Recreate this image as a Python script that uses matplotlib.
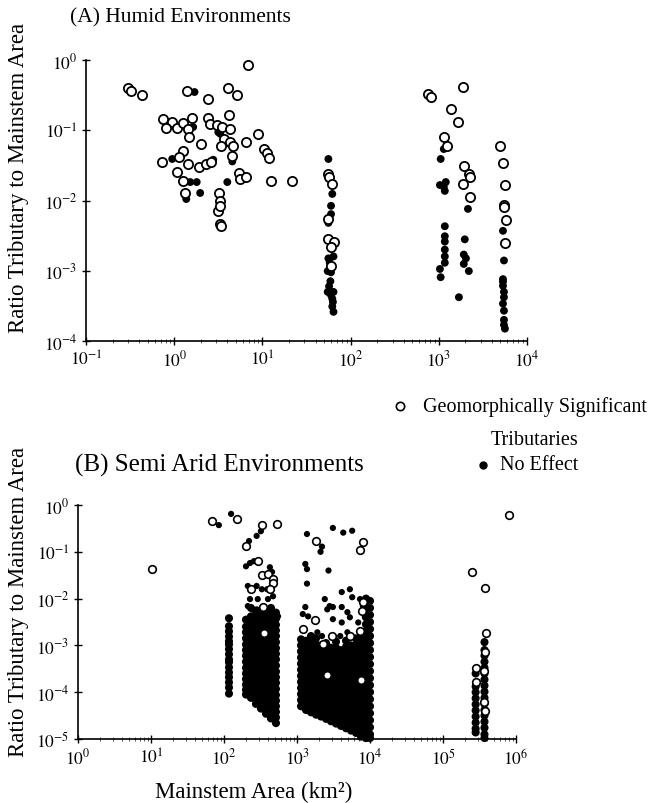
import numpy as np
import matplotlib
matplotlib.use('Agg')
import matplotlib.pyplot as plt
from matplotlib.lines import Line2D
from matplotlib.ticker import NullLocator, LogLocator

# ---- (A) humid: mainstem area (km2) vs tributary/mainstem area ratio
humid_sig_area = [0.30, 0.32, 0.43, 1.4, 2.4, 6.8, 4.1, 5.2, 4.2,
                  0.75, 0.95, 0.81, 1.08, 1.26, 1.6, 1.44, 1.48, 2.4, 2.56, 3.08, 3.5,
                  4.33, 3.7, 4.3, 4.7, 3.4, 6.6, 8.8, 2.03, 1.26, 1.14, 1.44, 0.73,
                  1.08, 1.26, 1.92, 2.31, 2.63, 4.56, 5.5, 5.6, 6.6, 10.3, 11.4, 12.0, 12.6, 21.4,
                  1.33, 3.24, 3.33, 3.16, 3.33, 3.33, 3.4,
                  55, 57, 62, 56, 55, 64, 60, 60,
                  750, 810, 1370, 1640, 1870, 1140, 1230, 1920, 2190, 2250, 1870, 2250,
                  4930, 5340, 5620, 5480, 5480, 5770, 5620]
humid_sig_ratio = [0.40, 0.36, 0.32, 0.36, 0.28, 0.85, 0.40, 0.32, 0.165,
                   0.145, 0.131, 0.108, 0.108, 0.127, 0.149, 0.104, 0.080, 0.149, 0.123, 0.119, 0.111,
                   0.104, 0.075, 0.068, 0.060, 0.060, 0.068, 0.089, 0.064, 0.051, 0.042, 0.033, 0.035,
                   0.0255, 0.019, 0.030, 0.033, 0.035, 0.043, 0.0246, 0.0202, 0.0216, 0.054, 0.047, 0.040, 0.019, 0.019,
                   0.0128, 0.0128, 0.0098, 0.0071, 0.0084, 0.0046, 0.0043,
                   0.0238, 0.0216, 0.0172, 0.0055, 0.0028, 0.0026, 0.0022, 0.00117,
                   0.33, 0.30, 0.20, 0.131, 0.41, 0.080, 0.060, 0.031, 0.0238, 0.0216, 0.0172, 0.0112,
                   0.060, 0.034, 0.0166, 0.0086, 0.0081, 0.0053, 0.0025]

humid_none_area = [1.7, 1.64, 3.16, 3.33, 0.95, 2.77, 4.56, 4.0, 1.52, 1.8, 1.37, 1.97,
                   56, 62, 60, 60, 56, 64, 56, 55, 59, 55, 64, 62, 62, 64, 58, 60, 57, 63, 60,
                   1140, 1050, 1200, 1030, 1140, 1170, 1170, 1170, 1170, 1170, 1170, 1170, 1030, 1050,
                   2140, 1970, 1920, 2030, 1920, 2190, 1690,
                   5340, 5480, 5340, 5340, 5480, 5340, 5480, 5480, 5620, 5340, 5480, 5480]
humid_none_ratio = [0.35, 0.111, 0.094, 0.089, 0.039, 0.038, 0.036, 0.0183, 0.0183, 0.0183, 0.0105, 0.0128,
                    0.039, 0.0124, 0.0084, 0.0064, 0.0048, 0.0016, 0.0015, 0.00099, 0.00071, 0.0005, 0.0005,
                    0.0004, 0.00031, 0.00026, 0.0013, 0.00095, 0.00060, 0.00036, 0.00045,
                    0.054, 0.039, 0.0183, 0.0166, 0.0156, 0.0137, 0.0043, 0.0031, 0.0026, 0.0020, 0.0016,
                    0.0013, 0.00106, 0.00081,
                    0.0076, 0.0028, 0.0017, 0.0015, 0.00125, 0.00099, 0.00042,
                    0.0037, 0.0014, 0.00076, 0.00061, 0.00042, 0.00034, 0.00027, 0.00017, 0.00015,
                    0.00070, 0.00050, 0.00020]

# ---- (B) semi arid, ratios given as log10 exponents
semi_sig_area = [10.3, 68, 150, 200, 290, 330, 530, 330, 400, 470, 470, 235, 425, 340, 350,
                 1800, 8000, 7300, 1750, 1200, 3000, 5300, 7300, 2300, 2600, 7500, 8000, 7700,
                 2.5e5, 3.8e5, 3.9e5, 3.8e5, 2.8e5, 2.8e5, 3.7e5, 3.7e5, 3.8e5, 8e5]
semi_sig_logratio = [-1.37, -0.34, -0.30, -0.88, -1.2, -0.43, -0.41, -1.5, -1.48, -1.58, -1.67, -1.8, -1.8, -2.18, -2.74,
                     -0.77, -0.79, -0.96, -2.46, -2.66, -2.80, -2.80, -2.70, -2.98, -3.64, -3.73, -2.08, -2.27,
                     -1.43, -1.78, -2.74, -3.15, -3.49, -3.79, -3.55, -4.22, -4.41, -0.21]

semi_none_area = [85, 125, 320, 280, 220, 227, 257,
                  212, 280, 330, 227, 290, 400, 212, 280, 470, 550, 425, 455, 200, 390, 470,
                  1370, 2200, 2100, 3100, 4300, 5700, 1300, 1370, 1370, 2700,
                  1300, 1200, 1420, 2400, 2800, 3100, 2600, 4100, 5300, 5700, 4100, 4900, 3100, 4100,
                  5300, 7300, 8000, 6900, 1900, 2200, 1600, 3900, 4900,
                  8000, 9000, 8500, 8000, 9000]
semi_none_logratio = [-0.43, -0.19, -0.56, -0.66, -0.77, -1.24, -1.2,
                      -1.73, -1.73, -1.8, -2.01, -2.01, -2.01, -2.16, -2.23, -2.27, -2.38, -1.33, -1.43, -1.31, -1.8, -1.95,
                      -0.62, -0.89, -1.0, -0.49, -0.59, -0.55, -1.26, -1.37, -1.68, -1.4,
                      -2.18, -2.33, -2.38, -2.01, -2.16, -2.18, -2.23, -1.86, -1.8, -1.97, -2.18, -2.29, -2.44, -2.51,
                      -2.40, -2.01, -2.16, -2.51, -2.72, -2.8, -2.8, -2.8, -2.72,
                      -2.06, -2.12, -2.38, -2.76, -2.8]

# dense "no effect" columns: one mainstem area, many tributaries
semi_col_area = [117,
                 200, 234, 274, 321, 376, 440, 515,
                 1135, 1330, 1555, 1820, 2130, 2500, 2920, 3420, 4000, 4690, 5490, 6430, 7530, 8810, 10000,
                 2.8e5, 3.7e5]
semi_col_logratio = [
    [-2.42, -2.59, -2.70, -2.81, -2.91, -2.98, -3.08, -3.19, -3.30, -3.36, -3.47, -3.58, -3.68, -3.79, -3.90, -4.03],
    [-2.45, -2.6, -2.72, -2.85, -2.98, -3.1, -3.22, -3.35, -3.48, -3.6, -3.72, -3.84, -3.95, -4.05],
    [-2.2, -2.38, -2.5, -2.63, -2.76, -2.88, -3.0, -3.13, -3.26, -3.38, -3.5, -3.63, -3.76, -3.88, -4.0, -4.12],
    [-2.3, -2.42, -2.55, -2.68, -2.8, -2.93, -3.05, -3.18, -3.3, -3.43, -3.56, -3.68, -3.8, -3.93, -4.05, -4.16, -4.25],
    [-2.25, -2.37, -2.5, -2.62, -2.75, -2.87, -3.0, -3.12, -3.25, -3.38, -3.5, -3.62, -3.75, -3.88, -4.0, -4.12, -4.24, -4.35],
    [-2.28, -2.4, -2.53, -2.66, -2.78, -2.9, -3.03, -3.16, -3.28, -3.4, -3.53, -3.66, -3.78, -3.9, -4.03, -4.15, -4.27, -4.38, -4.46],
    [-2.2, -2.33, -2.46, -2.58, -2.7, -2.83, -2.96, -3.08, -3.2, -3.33, -3.46, -3.58, -3.7, -3.83, -3.96, -4.08, -4.2, -4.33, -4.45, -4.56],
    [-2.3, -2.43, -2.56, -2.68, -2.8, -2.93, -3.06, -3.18, -3.3, -3.43, -3.56, -3.68, -3.8, -3.93, -4.06, -4.18, -4.3, -4.42, -4.54, -4.66],
    [-2.87, -3.0, -3.13, -3.26, -3.39, -3.52, -3.65, -3.78, -3.91, -4.04, -4.17, -4.3],
    [-2.9, -3.02, -3.15, -3.28, -3.41, -3.54, -3.67, -3.8, -3.93, -4.06, -4.19, -4.32, -4.38],
    [-2.8, -2.93, -3.06, -3.19, -3.32, -3.45, -3.58, -3.71, -3.84, -3.97, -4.1, -4.23, -4.36, -4.43],
    [-2.85, -2.98, -3.11, -3.24, -3.37, -3.5, -3.63, -3.76, -3.89, -4.02, -4.15, -4.28, -4.4, -4.48],
    [-3.0, -3.12, -3.25, -3.38, -3.51, -3.64, -3.77, -3.9, -4.03, -4.16, -4.29, -4.42, -4.52],
    [-2.95, -3.08, -3.21, -3.34, -3.47, -3.6, -3.73, -3.86, -3.99, -4.12, -4.25, -4.38, -4.5, -4.57],
    [-3.05, -3.18, -3.31, -3.44, -3.57, -3.7, -3.83, -3.96, -4.09, -4.22, -4.35, -4.48, -4.62],
    [-2.92, -3.05, -3.18, -3.31, -3.44, -3.57, -3.7, -3.83, -3.96, -4.09, -4.22, -4.35, -4.48, -4.6, -4.67],
    [-3.1, -3.23, -3.36, -3.49, -3.62, -3.75, -3.88, -4.01, -4.14, -4.27, -4.4, -4.53, -4.65, -4.72],
    [-2.9, -3.03, -3.16, -3.29, -3.42, -3.55, -3.68, -3.81, -3.94, -4.07, -4.2, -4.33, -4.46, -4.59, -4.7, -4.77],
    [-3.0, -3.13, -3.26, -3.39, -3.52, -3.65, -3.78, -3.91, -4.04, -4.17, -4.3, -4.43, -4.56, -4.69, -4.82],
    [-2.85, -2.98, -3.11, -3.24, -3.37, -3.5, -3.63, -3.76, -3.89, -4.02, -4.15, -4.28, -4.41, -4.54, -4.67, -4.8, -4.87],
    [-2.8, -2.93, -3.06, -3.19, -3.32, -3.45, -3.58, -3.71, -3.84, -3.97, -4.1, -4.23, -4.36, -4.49, -4.62, -4.75, -4.88, -4.95],
    [-2.0, -2.12, -2.25, -2.4, -2.55, -2.7, -2.83, -2.96, -3.09, -3.22, -3.35, -3.48, -3.61, -3.74, -3.87, -4.0,
     -4.13, -4.26, -4.39, -4.52, -4.65, -4.78, -4.91, -4.98],
    [-2.05, -2.2, -2.35, -2.5, -2.65, -2.8, -2.95, -3.1, -3.25, -3.4, -3.55, -3.7, -3.85, -4.0, -4.15, -4.3,
     -4.45, -4.6, -4.75, -4.9, -4.98],
    [-3.6, -3.88, -4.0, -4.13, -4.26, -4.39, -4.52, -4.65, -4.78, -4.86],
    [-2.93, -3.1, -3.22, -3.35, -3.48, -3.6, -3.73, -3.86, -3.99, -4.12, -4.25, -4.38, -4.5, -4.63, -4.76, -4.9, -4.98],
]

plt.rcParams['font.family'] = ['Liberation Serif', 'DejaVu Serif']
plt.rcParams['mathtext.fontset'] = 'stix'

W, H = 651, 804
fig = plt.figure(figsize=(W / 100, H / 100), dpi=100)
axA = fig.add_axes([86 / W, 1 - 342 / H, (527 - 86) / W, (342 - 61) / H])
axB = fig.add_axes([78 / W, 1 - 740 / H, (516 - 78) / W, (740 - 506) / H])


def style(ax, xexp, yexp):
    ax.set_xscale('log')
    ax.set_yscale('log')
    ax.set_xlim(10.0 ** xexp[0], 10.0 ** xexp[-1])
    ax.set_ylim(10.0 ** yexp[0], 10.0 ** yexp[-1])
    ax.set_xticks([10.0 ** e for e in xexp])
    ax.set_xticklabels([r'$10^{%d}$' % e for e in xexp])
    ax.set_yticks([10.0 ** e for e in yexp])
    ax.set_yticklabels([r'$10^{%d}$' % e for e in yexp])
    ax.xaxis.set_minor_locator(LogLocator(base=10, subs=np.arange(2, 10), numticks=20))
    ax.yaxis.set_minor_locator(NullLocator())
    for s in ['top', 'right']:
        ax.spines[s].set_visible(False)
    for s in ['left', 'bottom']:
        ax.spines[s].set_linewidth(1.2)
    ax.tick_params(which='major', direction='inout', length=6, width=1, labelsize=12.5, pad=3)
    ax.tick_params(which='minor', direction='inout', length=3, width=0.7, color='0.35')


style(axA, list(range(-1, 5)), list(range(-4, 1)))
style(axB, list(range(0, 7)), list(range(-5, 1)))

# panel A
axA.scatter(humid_none_area, humid_none_ratio, s=32, c='black', edgecolors='none', clip_on=False, zorder=3)
axA.scatter(humid_sig_area, humid_sig_ratio, s=44, facecolors='white', edgecolors='black',
            linewidths=1.3, clip_on=False, zorder=4)

# panel B
col_x = [a for a, ys in zip(semi_col_area, semi_col_logratio) for _ in ys]
col_y = [10.0 ** v for ys in semi_col_logratio for v in ys]
axB.scatter(col_x, col_y, s=34, c='black', edgecolors='none', clip_on=False, zorder=3)
axB.scatter(semi_none_area, [10.0 ** v for v in semi_none_logratio], s=20, c='black',
            edgecolors='none', clip_on=False, zorder=3)
axB.scatter(semi_sig_area, [10.0 ** v for v in semi_sig_logratio], s=30, facecolors='white',
            edgecolors='black', linewidths=1.2, clip_on=False, zorder=4)

# titles / labels
fig.text(70 / W, 1 - 18 / H, '(A) Humid Environments', fontsize=15.5, va='center', ha='left')
fig.text(75 / W, 1 - 465 / H, '(B) Semi Arid Environments', fontsize=18, va='center', ha='left')
fig.text(19 / W, 1 - 178 / H, 'Ratio Tributary to Mainstem Area', fontsize=16.5, rotation=90,
         ha='center', va='center')
fig.text(19 / W, 1 - 602 / H, 'Ratio Tributary to Mainstem Area', fontsize=16.5, rotation=90,
         ha='center', va='center')
fig.text(254 / W, 1 - 792 / H, 'Mainstem Area (km²)', fontsize=16.5, ha='center', va='center')

# legend (hand placed)
fig.add_artist(Line2D([400 / W], [1 - 407 / H], marker='o', ms=6, mfc='white', mec='black', mew=1.2,
                      transform=fig.transFigure))
fig.add_artist(Line2D([483 / W], [1 - 466 / H], marker='o', ms=5, mfc='black', mec='black',
                      transform=fig.transFigure))
fig.text(423 / W, 1 - 407 / H, 'Geomorphically Significant', fontsize=14.5, va='center', ha='left')
fig.text(535 / W, 1 - 441 / H, 'Tributaries', fontsize=14.5, va='center', ha='center')
fig.text(500 / W, 1 - 466 / H, 'No Effect', fontsize=14.5, va='center', ha='left')

fig.savefig('out.png', dpi=100)
